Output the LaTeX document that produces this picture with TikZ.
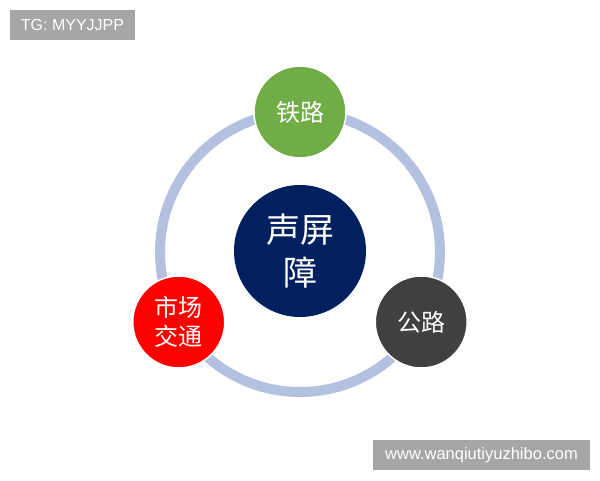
\documentclass[tikz,border=0pt]{standalone}
\usepackage{fontspec}
\setmainfont{Liberation Sans}
\newfontfamily\cjk{Noto Sans CJK SC}
\usepackage{tikz}
\usetikzlibrary{calc,positioning}
\definecolor{myringblue}{RGB}{180,192,224}
\definecolor{mygreen}{RGB}{112,173,71}
\definecolor{mynavy}{RGB}{0,32,96}
\definecolor{mygrey}{RGB}{64,64,64}
\definecolor{myred}{RGB}{255,0,0}
\definecolor{mytaggrey}{RGB}{166,166,166}
\tikzstyle{hub}=[fill=mynavy,circle,minimum size=132pt,inner sep=0pt,text=white,align=center,font=\cjk\fontsize{34}{43}\selectfont]
\tikzstyle{sat}=[draw=white,line width=1.5pt,circle,minimum size=92pt,inner sep=0pt,text=white,align=center,font=\cjk\fontsize{24}{29}\selectfont]
\tikzstyle{tagbox}=[fill=mytaggrey,text=white,inner sep=0pt,minimum height=30pt,font=\fontsize{16}{16}\selectfont]
\tikzstyle{ring}=[draw=myringblue,line width=10pt]

\begin{document}
\begin{tikzpicture}[x=1pt,y=1pt]
\useasboundingbox (0,0) rectangle (600,480);
\coordinate (c) at (300,228);
\draw [ring] (c) circle (140);
\node [hub] (hub) at (300,229) {声屏\\障};
\node [sat, fill=mygreen] (rail) at ($(c)+(90:140)$) {铁路};
\node [sat, fill=mygrey] (road) at ($(c)+(-30:140)$) {公路};
\node [sat, fill=myred] (city) at ($(c)+(210:140)$) {市场\\交通};
% watermarks
\node [tagbox, minimum width=125pt] (tg) at (72.5,455) {TG: MYYJJPP};
\node [tagbox, minimum width=217pt, font=\fontsize{16.5}{16.5}\selectfont] (url) at (481.5,25) {www.wanqiutiyuzhibo.com};
\end{tikzpicture}
\end{document}
